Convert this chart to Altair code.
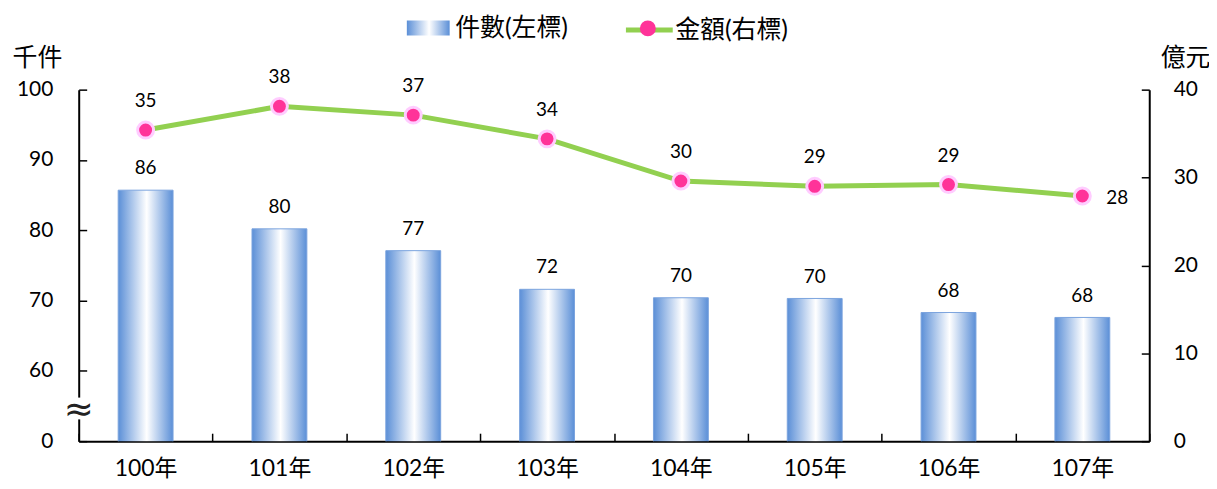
import altair as alt
import pandas as pd

YEARS = ["100年", "101年", "102年", "103年", "104年", "105年", "106年", "107年"]
COUNTS = [85.7, 80.2, 77.1, 71.6, 70.4, 70.3, 68.3, 67.6]      # 千件 (left axis)
AMOUNTS = [35.4, 38.1, 37.1, 34.4, 29.6, 29.0, 29.2, 27.9]     # 億元 (right axis)
LEFT_TICKS = [50, 60, 70, 80, 90, 100]   # 50 is shown as "0" (broken axis)
RIGHT_TICKS = [0, 10, 20, 30, 40]
BREAK_MARK = [54.4]
BREAK_GAP = [(53.1, 56.2)]
BAR_NAME = "件數(左標)"
LINE_NAME = "金額(右標)"
POINT_KEY = "●"

FONT = "Lato, 'Noto Sans CJK TC', sans-serif"
BLUE = "#5B8FD7"
GREEN = "#92D050"
PINK = "#FF3399"
PINK_HALO = "#FFCCFF"

df = pd.DataFrame({"year": YEARS, "count": COUNTS, "amount": AMOUNTS})
df["bar_key"] = BAR_NAME
df["line_key"] = LINE_NAME
df["point_key"] = POINT_KEY
last_year = YEARS[-1]

brk = pd.DataFrame({"count": BREAK_MARK})
gap = pd.DataFrame({"count": [g[0] for g in BREAK_GAP], "g2": [g[1] for g in BREAK_GAP]})

bar_gradient = alt.LinearGradient(
    gradient="linear",
    stops=[
        alt.GradientStop(offset=0, color=BLUE),
        alt.GradientStop(offset=0.52, color="#FFFFFF"),
        alt.GradientStop(offset=1, color=BLUE),
    ],
    x1=0, x2=1, y1=0, y2=0,
)
grad_expr = ("{gradient:'linear',x1:0,y1:0,x2:1,y2:0,stops:[{offset:0,color:'%s'},"
             "{offset:0.52,color:'#ffffff'},{offset:1,color:'%s'}]}" % (BLUE, BLUE))

x_enc = alt.X(
    "year:N", sort=YEARS,
    scale=alt.Scale(paddingInner=0, paddingOuter=0),
    axis=alt.Axis(title=None, labelAngle=0, tickBand="extent",
                  tickSize=alt.ExprRef(expr="-8"), labelPadding=24,
                  labelFontSize=23, labelFont=FONT, labelColor="#000"),
)

left_scale = alt.Scale(domain=[50, 100], nice=False, zero=False)
left_axis = alt.Axis(
    values=LEFT_TICKS, labelExpr="datum.value == 50 ? '0' : datum.label",
    title="千件", titleAngle=0, titleX=-42, titleY=-32, titleAlign="center",
    titleBaseline="middle", titleFontSize=25, titleFont=FONT, titleFontWeight="normal",
    titleColor="#000",
    tickSize=alt.ExprRef(expr="-8"), labelPadding=34, grid=False,
    labelFontSize=21, labelFont=FONT, labelColor="#000",
)
right_scale = alt.Scale(domain=[0, 40], nice=False)
right_axis = alt.Axis(
    orient="right", values=RIGHT_TICKS,
    title="億元", titleAngle=0, titleX=36, titleY=-32, titleAlign="center",
    titleBaseline="middle", titleFontSize=25, titleFont=FONT, titleFontWeight="normal",
    titleColor="#000",
    tickSize=alt.ExprRef(expr="-8"), labelPadding=32, grid=False,
    labelFontSize=21, labelFont=FONT, labelColor="#000",
)
y_left = alt.Y("count:Q", scale=left_scale, axis=left_axis)
y_right = alt.Y("amount:Q", scale=right_scale, axis=right_axis)

base = alt.Chart(df)

bars = base.mark_bar(
    fill=bar_gradient, stroke="#7BA3DE", strokeWidth=1,
    width=alt.RelativeBandSize(0.41), clip=True,
).encode(
    x=x_enc,
    y=y_left,
    opacity=alt.Opacity(
        "bar_key:N", scale=alt.Scale(domain=[BAR_NAME], range=[1]),
        legend=alt.Legend(
            title=None, orient="none", legendX=329, legendY=-84, padding=0,
            symbolType="M-1,-0.35H1V0.35H-1Z", symbolSize=1849,
            symbolFillColor=alt.ExprRef(expr=grad_expr),
            symbolStrokeColor="#7BA3DE", symbolStrokeWidth=1, symbolOpacity=1,
            labelFontSize=25, labelFont=FONT, labelColor="#000", labelOffset=5,
        ),
    ),
)

bar_labels = base.mark_text(
    baseline="alphabetic", dy=-16, fontSize=19, font=FONT, color="#000"
).encode(
    x=x_enc,
    y=y_left,
    text=alt.Text("count:Q", format=".0f"),
)

gap_rule = alt.Chart(gap).mark_rule(color="white", strokeWidth=6).encode(
    x=alt.value(0),
    y=y_left,
    y2="g2:Q",
)
brk_text = alt.Chart(brk).mark_text(
    text="≈", fontSize=36, font="DejaVu Sans", baseline="middle", color="#222"
).encode(
    x=alt.value(0),
    y=y_left,
)

left = alt.layer(bars, bar_labels, gap_rule, brk_text)

line = base.mark_line(strokeWidth=5).encode(
    x=x_enc,
    y=y_right,
    color=alt.Color(
        "line_key:N", scale=alt.Scale(domain=[LINE_NAME], range=[GREEN]),
        legend=alt.Legend(
            title=None, orient="none", legendX=547, legendY=-86, padding=0,
            symbolType="stroke", symbolSize=2209, symbolStrokeWidth=5,
            symbolStrokeColor=GREEN,
            labelFontSize=25, labelFont=FONT, labelColor="#000", labelOffset=0,
        ),
    ),
)

points = base.mark_point(
    shape="circle", filled=True, fill=PINK, stroke=PINK_HALO, strokeWidth=3,
    size=256, opacity=1,
).encode(
    x=x_enc,
    y=y_right,
    shape=alt.Shape(
        "point_key:N", scale=alt.Scale(domain=[POINT_KEY], range=["circle"]),
        legend=alt.Legend(
            title=None, orient="none", legendX=562, legendY=-71, padding=0,
            symbolType="circle", symbolSize=256, symbolFillColor=PINK,
            symbolStrokeColor=PINK_HALO, symbolStrokeWidth=3, symbolOpacity=1,
            labelExpr="''",
        ),
    ),
)

line_labels = base.mark_text(
    baseline="alphabetic", dy=-23, fontSize=19, font=FONT, color="#000"
).encode(
    x=x_enc,
    y=y_right,
    text=alt.Text("amount:Q", format=".0f"),
).transform_filter(alt.datum.year != last_year)

last_label = base.mark_text(
    align="left", baseline="middle", dx=24, dy=2, fontSize=19, font=FONT, color="#000"
).encode(
    x=x_enc,
    y=y_right,
    text=alt.Text("amount:Q", format=".0f"),
).transform_filter(alt.datum.year == last_year)

right = alt.layer(line, points, line_labels, last_label)

chart = alt.layer(left, right).resolve_scale(
    y="independent", opacity="independent", color="independent", shape="independent"
).properties(
    width=1075, height=353,
    autosize=alt.AutoSizeParams(type="none"),
    padding={"left": 71, "top": 81, "right": 60, "bottom": 39},
    background="white",
).configure_view(
    stroke=None
).configure_axis(
    domainColor="#000", domainWidth=2, tickColor="#000", tickWidth=1.5,
).configure_legend(
    labelFont=FONT,
)

chart.save("out.html", embed_options={"renderer": "svg", "actions": False})
